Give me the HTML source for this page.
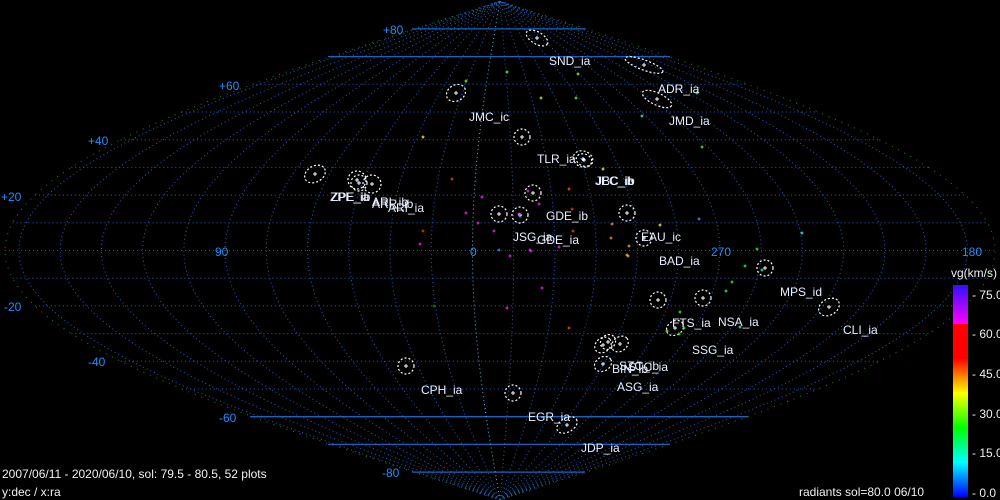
<!DOCTYPE html>
<html><head><meta charset="utf-8"><style>
html,body{margin:0;padding:0;background:#000;width:1000px;height:500px;overflow:hidden}
svg{display:block}
text{font-family:"Liberation Sans",sans-serif}
.l{fill:#e8eeff;font-size:12px}
.a{fill:#1e8fff;font-size:12px}
.w{fill:#f0f0f0;font-size:12px}
</style></head><body>
<svg id="s" width="1000" height="500" viewBox="0 0 1000 500">
<defs>
<linearGradient id="cb" x1="0" y1="1" x2="0" y2="0">
<stop offset="0" stop-color="#0000ff"/>
<stop offset="0.2" stop-color="#00ffff"/>
<stop offset="0.4" stop-color="#00ff00"/>
<stop offset="0.6" stop-color="#ffff00"/>
<stop offset="0.8" stop-color="#ff0000"/>
</linearGradient>
<linearGradient id="cb2" x1="0" y1="1" x2="0" y2="0">
<stop offset="0" stop-color="#ff00ff"/>
<stop offset="1" stop-color="#3010ff"/>
</linearGradient>
</defs>
<g id="grid"></g>
<g id="marks"></g>
<!-- axis labels -->
<text class="a" x="383" y="34">+80</text>
<text class="a" x="219" y="90">+60</text>
<text class="a" x="88" y="145">+40</text>
<text class="a" x="1" y="201">+20</text>
<text class="a" x="4" y="311">-20</text>
<text class="a" x="88" y="366">-40</text>
<text class="a" x="219" y="422">-60</text>
<text class="a" x="382" y="477">-80</text>
<text class="a" x="215" y="256">90</text>
<text class="a" x="470" y="256">0</text>
<text class="a" x="711" y="256">270</text>
<text class="a" x="962" y="256">180</text>
<!-- shower labels -->
<g class="l">
<text x="549" y="65">SND_ia</text>
<text x="658" y="93">ADR_ia</text>
<text x="669" y="125">JMD_ia</text>
<text x="469" y="121">JMC_ic</text>
<text x="537" y="163">TLR_ia</text>
<text x="595" y="185">JEC_ib</text>
<text x="596" y="185">JBC_ib</text>
<text x="330" y="201">ZPE_ia</text>
<text x="331" y="201">ZPE_ib</text>
<text x="372" y="206">ARI_ib</text>
<text x="372" y="208">ARR_ib</text>
<text x="388" y="212">ARI_ia</text>
<text x="546" y="220">GDE_ib</text>
<text x="513" y="241">JSG_ia</text>
<text x="537" y="244">GDE_ia</text>
<text x="641" y="241">EAU_ic</text>
<text x="659" y="265">BAD_ia</text>
<text x="780" y="296">MPS_id</text>
<text x="843" y="334">CLI_ia</text>
<text x="672" y="327">FTS_ia</text>
<text x="718" y="326">NSA_ia</text>
<text x="692" y="354">SSG_ia</text>
<text x="619" y="370">SZC_ib</text>
<text x="628" y="371">STC_ia</text>
<text x="612" y="373">BIN_ib</text>
<text x="617" y="391">ASG_ia</text>
<text x="421" y="394">CPH_ia</text>
<text x="528" y="421">EGR_ia</text>
<text x="581" y="452">JDP_ia</text>
</g>
<!-- colorbar -->
<rect x="953" y="324" width="15" height="173" fill="url(#cb)"/>
<rect x="953" y="285" width="15" height="39" fill="url(#cb2)"/>
<text class="w" x="951" y="277">vg(km/s)</text>
<g class="w">
<text x="972" y="299">- 75.0</text>
<text x="972" y="338">- 60.0</text>
<text x="972" y="378">- 45.0</text>
<text x="972" y="418">- 30.0</text>
<text x="972" y="457">- 15.0</text>
<text x="972" y="497">-  0.0</text>
</g>
<text class="w" x="2" y="478">2007/06/11 - 2020/06/10,  sol: 79.5 - 80.5, 52 plots</text>
<text class="w" x="2" y="496">y:dec / x:ra</text>
<text class="w" x="799" y="496">radiants sol=80.0 06/10</text>
</svg>
<script>
var NS="http://www.w3.org/2000/svg",g=document.getElementById("grid"),m=document.getElementById("marks");
function el(p,t,a){var e=document.createElementNS(NS,t);for(var k in a)e.setAttribute(k,a[k]);p.appendChild(e);return e;}
var cx=500,cy=250.5,k=2.75,ky=2.77;
function X(L,d){return cx+L*k*Math.cos(d*Math.PI/180);}
function Y(d){return cy-d*ky;}
// parallels
for(var d=-80;d<=80;d+=10){
 var hw=495*Math.cos(d*Math.PI/180);
 if(d==0){el(g,"line",{x1:cx-hw,y1:Y(0),x2:cx+hw,y2:Y(0),stroke:"#d01010","stroke-width":1,"stroke-dasharray":"1 3"});continue;}
 el(g,"line",{x1:cx-hw,y1:Y(d),x2:cx+hw,y2:Y(d),stroke:"#1a62c0","stroke-width":1,"stroke-dasharray":"1 3"});
}
function solid(d,x1,x2){el(g,"line",{x1:x1,y1:Y(d),x2:x2,y2:Y(d),stroke:"#1a62c0","stroke-width":1.3});}
solid(80,412,585);solid(70,328,670);solid(-60,250,748);solid(-70,328,670);solid(-80,412,585);
// meridians
for(var ra=0;ra<360;ra+=15){
 var L=-(ra+10);while(L<-180)L+=360;while(L>180)L-=360;
 var p="";for(var dd=-90;dd<=90;dd+=3){p+=(dd==-90?"M":"L")+X(L,dd).toFixed(1)+","+Y(dd).toFixed(1);}
 el(g,"path",{d:p,fill:"none",stroke:ra==0?"#40c0f0":"#1a62c0","stroke-width":1,"stroke-dasharray":"1 3"});
}
// boundary
var p="";for(var dd=-90;dd<=90;dd+=2){p+=(dd==-90?"M":"L")+X(-180,dd).toFixed(1)+","+Y(dd).toFixed(1);}
for(var dd=90;dd>=-90;dd-=2){p+="L"+X(180,dd).toFixed(1)+","+Y(dd).toFixed(1);}
el(g,"path",{d:p,fill:"none",stroke:"#1a8a1a","stroke-width":1,"stroke-dasharray":"1 6"});
// ellipses
var E=[[537,38,12,6,30],[644,65,20,5,20],[456,93,10,8,-30],[657,99,16,6,25],[522,137,8,8,0],[583,159,10,8,20],[584,160,8,6,20],
[315,174,11,8,-30],[357,180,9,9,0],[359,183,8,8,0],[372,184,9,9,0],[533,193,8,8,0],[499,214,8,8,0],[520,215,8,8,0],[627,213,8,8,0],
[644,238,8,8,0],[765,268,8,8,0],[658,300,8,8,0],[703,298,8,8,0],[829,307,11,8,-30],[675,328,9,7,-30],
[603,345,9,7,-40],[608,342,8,7,-40],[620,344,9,7,-40],[603,364,9,7,-30],[406,366,8,8,0],[513,393,8,8,0],[567,425,11,7,-30]];
E.forEach(function(e){
 el(m,"ellipse",{cx:e[0],cy:e[1],rx:e[2],ry:e[3],transform:"rotate("+e[4]+" "+e[0]+" "+e[1]+")",fill:"none",stroke:"#fff","stroke-width":1.2,"stroke-dasharray":"2 2"});
 el(m,"path",{d:"M"+(e[0]-2)+","+e[1]+"h4M"+e[0]+","+(e[1]-2)+"v4",stroke:"#fff","stroke-width":1});
});
// points
var P=[[507,72,"#80ff20"],[578,74,"#80ff20"],[466,81,"#80ff20"],[541,98,"#c0ff20"],[576,98,"#80ff20"],[697,93,"#30ffd0"],[642,116,"#30ffd0"],[702,147,"#30ff80"],
[423,137,"#ffff20"],[603,169,"#ffff20"],[632,181,"#ffff20"],[660,225,"#ffff20"],[627,255,"#ffc020"],
[452,179,"#ff4010"],[569,189,"#ff6010"],[572,209,"#ff3010"],[612,224,"#ff9010"],[611,238,"#ff9010"],[629,246,"#ffb010"],[423,231,"#ff3010"],[573,231,"#ff4010"],
[528,191,"#ff20ff"],[539,204,"#ff20ff"],[482,197,"#ff20ff"],[466,213,"#ff20ff"],[519,214,"#ff20ff"],[478,223,"#ff20ff"],[494,231,"#ff20ff"],[420,244,"#ff20ff"],[530,250,"#ff20ff"],[559,247,"#ff20ff"],[510,256,"#ff20ff"],[531,251,"#ff20ff"],[542,288,"#ff20ff"],[507,308,"#ff20ff"],[699,219,"#8080ff"],
[520,216,"#20e0ff"],[499,250,"#20a0ff"],[628,256,"#ffc010"],[569,328,"#ff5010"],
[745,266,"#20ff60"],[732,282,"#20ff60"],[726,291,"#20ff60"],[680,312,"#20ff60"],[667,331,"#80ff20"],[684,328,"#20ff60"],[679,334,"#20ff60"],[762,270,"#30ffd0"],[740,327,"#30ffd0"],[757,249,"#20ff40"],[802,233,"#30ffd0"],[434,306,"#208020"]];
P.forEach(function(q){el(m,"path",{d:"M"+(q[0]-1.5)+","+q[1]+"h3M"+q[0]+","+(q[1]-1.5)+"v3",stroke:q[2],"stroke-width":1});});
</script>
</body></html>
